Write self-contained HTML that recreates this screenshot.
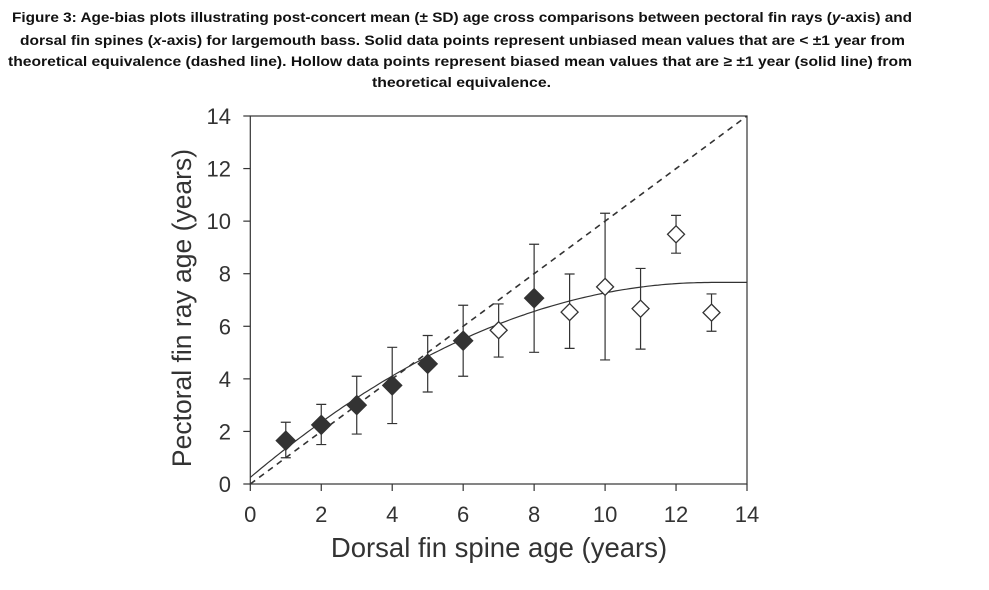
<!DOCTYPE html>
<html><head><meta charset="utf-8"><style>
html,body{margin:0;padding:0;background:#fff;}
svg{display:block;font-family:"Liberation Sans",sans-serif;}
</style></head><body>
<svg id="chart" width="989" height="590" viewBox="0 0 989 590">
<g font-weight="bold" font-size="14" fill="#111">
<text x="12" y="22" textLength="900" lengthAdjust="spacingAndGlyphs">Figure 3: Age-bias plots illustrating post-concert mean (± SD) age cross comparisons between pectoral fin rays (<tspan font-style="italic">y</tspan>-axis) and</text>
<text x="20" y="45" textLength="885" lengthAdjust="spacingAndGlyphs">dorsal fin spines (<tspan font-style="italic">x</tspan>-axis) for largemouth bass. Solid data points represent unbiased mean values that are &lt; ±1 year from</text>
<text x="8" y="66" textLength="904" lengthAdjust="spacingAndGlyphs">theoretical equivalence (dashed line). Hollow data points represent biased mean values that are ≥ ±1 year (solid line) from</text>
<text x="372" y="87" textLength="179" lengthAdjust="spacingAndGlyphs">theoretical equivalence.</text>
</g>
<g id="plot"></g>
</svg>
<script>
const ages = [1,2,3,4,5,6,7,8,9,10,11,12,13];
const means = [1.65,2.25,3.0,3.75,4.57,5.45,5.85,7.07,6.54,7.5,6.67,9.5,6.52];
const upper = [2.35,3.03,4.1,5.2,5.65,6.8,6.85,9.12,7.99,10.3,8.2,10.22,7.23];
const lower = [1.0,1.5,1.9,2.3,3.5,4.1,4.83,5.01,5.16,4.72,5.13,8.78,5.81];
const biased = [false,false,false,false,false,false,true,false,true,true,true,true,true];
const fitCoef = [0.25,1.14,-0.0438];
const fitPeak = [13];
const xTicks = [0,2,4,6,8,10,12,14];
const yTicks = [0,2,4,6,8,10,12,14];

const X0=250.3,X1=747,Y0=484,Y1=116;
const sx=v=>X0+(v-0)/(14-0)*(X1-X0);
const sy=v=>Y0-(v-0)/(14-0)*(Y0-Y1);
const NS='http://www.w3.org/2000/svg';
const g=document.getElementById('plot');
function mk(t,a,p){const e=document.createElementNS(NS,t);for(const k in a)e.setAttribute(k,a[k]);(p||g).appendChild(e);return e;}
const C='#333';

let frame=mk('rect',{x:X0,y:Y1,width:X1-X0,height:Y0-Y1,fill:'none',stroke:C,'stroke-width':1.2});



xTicks.forEach(t=>{
  let l=mk('line',{x1:sx(t),x2:sx(t),y1:Y0,y2:Y0+7,stroke:C,'stroke-width':1.2});
  
  
  let tx=mk('text',{x:sx(t),y:522,'text-anchor':'middle','font-size':22,fill:'#333'});
  tx.textContent=t;
  
  
});
yTicks.forEach(t=>{
  let l=mk('line',{x1:X0-7,x2:X0,y1:sy(t),y2:sy(t),stroke:C,'stroke-width':1.2});
  
  
  let tx=mk('text',{x:231,y:sy(t)+8,'text-anchor':'end','font-size':22,fill:'#333'});
  tx.textContent=t;
  
  
});
let xt=mk('text',{x:499,y:557,'text-anchor':'middle','font-size':27.5,fill:'#333'});
xt.textContent='Dorsal fin spine age (years)';


let yt=mk('text',{x:0,y:0,'text-anchor':'middle','font-size':26.5,fill:'#333',transform:'translate(191,308) rotate(-90)'});
yt.textContent='Pectoral fin ray age (years)';



let eq=mk('line',{x1:sx(0),y1:sy(0),x2:sx(14),y2:sy(14),stroke:C,'stroke-width':1.6,'stroke-dasharray':'6,5'});



let d='';
for(let i=0;i<=140;i++){const x=i/10;const xe=Math.min(x,fitPeak[0]);const y=fitCoef[0]+fitCoef[1]*xe+fitCoef[2]*xe*xe;d+=(i?'L':'M')+sx(x).toFixed(1)+','+sy(y).toFixed(1);}
let fit=mk('path',{d:d,fill:'none',stroke:C,'stroke-width':1.2});



ages.forEach((a,i)=>{
  const x=sx(a),cap=5;
  let eb=mk('path',{d:`M${x},${sy(upper[i])}V${sy(lower[i])}M${x-cap},${sy(upper[i])}H${x+cap}M${x-cap},${sy(lower[i])}H${x+cap}`,stroke:C,'stroke-width':1.2,fill:'none'});
  
  
  const y=sy(means[i]),r=biased[i]?8.5:9.5;
  let p=mk('polygon',{points:`${x},${y-r} ${x+r},${y} ${x},${y+r} ${x-r},${y}`,fill:biased[i]?'#fff':'#333',stroke:C,'stroke-width':1.3});
  
  
});
</script>
</body></html>
